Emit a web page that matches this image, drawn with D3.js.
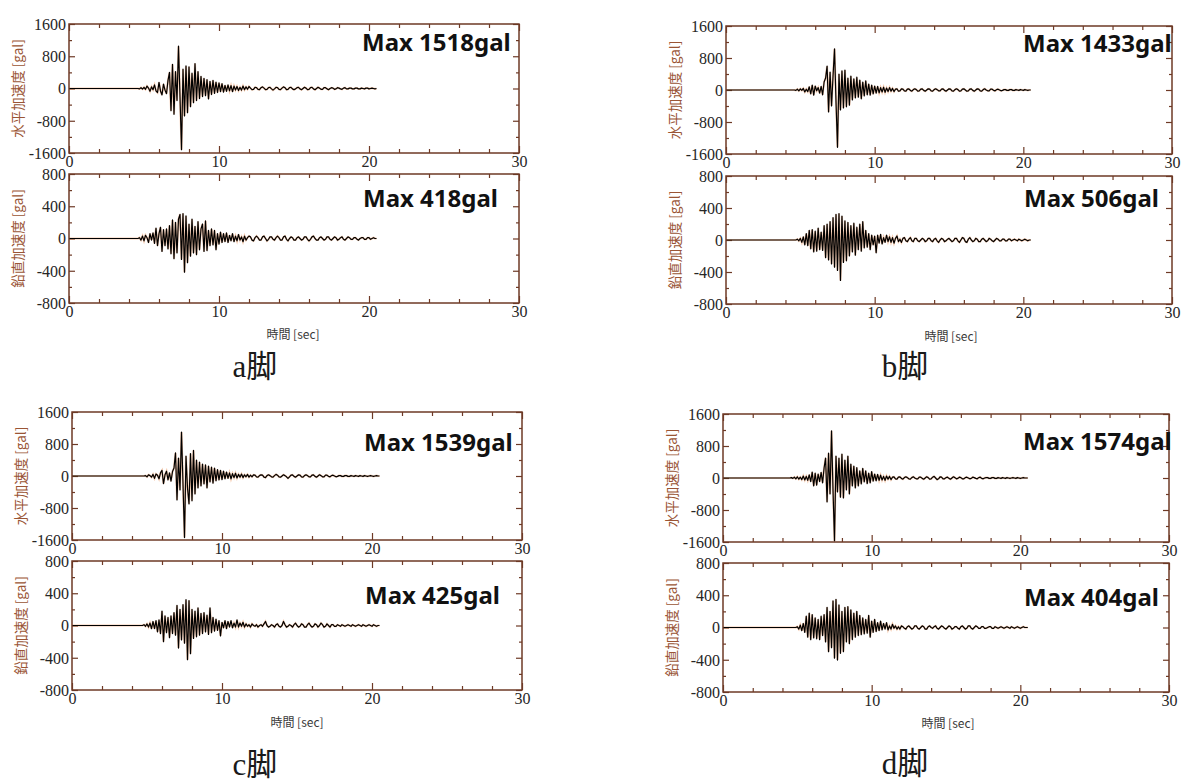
<!DOCTYPE html>
<html><head><meta charset="utf-8">
<script src="https://cdn.jsdelivr.net/npm/d3@7"></script>
<style>
html,body{margin:0;padding:0;background:#fff;}
svg{display:block;}
.tick text{font-family:"Liberation Serif","DejaVu Serif",serif !important;font-size:16px !important;}
</style></head>
<body>
<svg id="chart" width="1184" height="781"></svg>
<script>
// ---------------- DATA ----------------
const legNames = ["a脚", "b脚", "c脚", "d脚"];
const horizMaxLabels = ["Max 1518gal", "Max 1433gal", "Max 1539gal", "Max 1574gal"];
const vertMaxLabels = ["Max 418gal", "Max 506gal", "Max 425gal", "Max 404gal"];
const horizTitle = "水平加速度 [gal]";
const vertTitle = "鉛直加速度 [gal]";
const timeTitle = "時間 [sec]";
const xTickValues = [0, 10, 20, 30];
const xTickLabels = ["0", "10", "20", "30"];
const xMinorValues = [2, 4, 6, 8, 12, 14, 16, 18, 22, 24, 26, 28];
const hTickValues = [1600, 800, 0, -800, -1600];
const hTickLabels = ["1600", "800", "0", "-800", "-1600"];
const hMinorValues = [1200, 400, -400, -1200];
const vTickValues = [800, 400, 0, -400, -800];
const vTickLabels = ["800", "400", "0", "-400", "-800"];
const vMinorValues = [600, 200, -200, -600];
const sampleStart = 4.5;   // seconds, first sample (trace is 0 before)
const sampleStep = 0.1;    // seconds between samples

const aHorizontal = [
 0, 0, -10, 20, -15,
 30, -20, 60, 10, -70, 40, -30, 90, -60, -100,
 150, -60, -160, 110, -40, -130, 200, 400, -550, 600,
 -640, 420, -300, 1050, -200, -1518, 480, -680, 560, -600,
 540, -450, 380, -350, 620, -300, 420, -250, 300, -200,
 250, -180, 220, -260, 180, -150, 200, -120, 160, -100,
 140, -80, 120, -90, 80, -70, 90, -60, 70, -80,
 60, -40, 50, -50, 30, -40, 60, -30, 40, -20,
 50, 10, -30, -20, 30, 20, -20, -30, 20, 40,
 10, -30, -20, 20, 30, -10, -40, -10, 30, 20,
 -20, -30, 10, 40, 20, -30, -20, 20, 30, -10,
 -30, -10, 20, 30, -10, -30, 0, 30, 10, -30,
 -20, 20, 30, -10, -30, 0, 30, 10, -20, -20,
 20, 20, -10, -30, 0, 20, 10, -20, -10, 20,
 10, -10, -20, 10, 20, -10, -10, 10, 10, -10,
 -10, 10, 10, -10, -10, 10, 0, -10, 10, 10,
 -10, 0, 10, 0, -10, 0
];
const aVertical = [
 0, 0, 10, -20, 30,
 -30, 40, 10, -50, 60, -20, 70, -60, 130, -90,
 60, 140, -160, 110, -90, 120, -130, 160, -190, 230,
 -250, 200, -180, 240, 300, -260, 310, -418, 280, -300,
 180, -220, 240, -180, 150, -200, 210, -140, 120, 180,
 -160, 220, -150, 100, -90, 120, -80, 100, -140, 60,
 -70, 80, -50, 60, -40, 70, -50, 40, -30, 60,
 -40, 30, -30, 50, -20, 20, -40, 30, -20, 10,
 30, 20, -20, -30, 10, 30, 10, -20, -20, 20,
 30, 0, -30, -10, 20, 20, -10, -20, 10, 30,
 10, -20, -20, 20, 30, -10, -30, 0, 20, 10,
 -20, -20, 10, 20, 0, -20, -10, 20, 20, -10,
 -30, -10, 20, 30, 0, -20, -20, 10, 20, 0,
 -20, -10, 20, 20, -10, -20, 0, 20, 10, -20,
 -10, 10, 20, -10, -20, 0, 20, 10, -10, -10,
 10, 10, -10, -20, 0, 10, 10, -10, -10, 10,
 10, -10, 0, 10, 0, 0
];
const bHorizontal = [
 0, 0, -10, 20, -20,
 30, -10, 40, -50, 20, -40, 80, -100, 120, -130,
 100, -20, 60, -80, 90, -120, 200, 300, 600, -550,
 450, -400, 350, 1030, -300, -1433, 400, -500, 480, -450,
 500, -420, 300, -380, 350, -250, 280, -200, 320, -180,
 250, -220, 200, -150, 230, -120, 150, -130, 120, -100,
 100, -80, 90, -70, 60, -50, 70, -60, 50, -40,
 60, -30, 40, -40, 20, 30, -30, -20, 30, 20,
 -20, -30, 20, 30, -10, -30, 10, 30, 10, -30,
 -20, 20, 30, -10, -30, 0, 30, 20, -20, -30,
 10, 30, 10, -20, -20, 20, 30, -10, -30, 0,
 30, 20, -20, -30, 10, 30, 10, -30, -20, 20,
 30, 0, -30, -20, 20, 30, -10, -30, 0, 30,
 20, -20, -30, 10, 30, 0, -20, -20, 20, 20,
 -10, -20, 10, 20, 0, -20, -10, 10, 10, -10,
 -10, 10, 10, -10, -10, 10, 0, -10, 10, 0,
 -10, 10, 0, -10, 0, 0
];
const bVertical = [
 0, 0, 0, 10, -10,
 20, -30, 40, -60, 80, -70, 120, -110, 130, -150,
 110, -140, 150, -120, 100, -130, 180, -220, 200, -250,
 230, -300, 280, -340, 320, -380, 330, -506, 300, -280,
 240, -260, 220, -200, 180, -150, 210, -190, 160, -120,
 200, -140, 230, -100, 120, -90, 80, -120, 60, -60,
 50, -160, 60, -40, 70, -50, 30, -30, 60, -20,
 40, -30, 30, -40, 20, 50, -20, 10, -30, 20,
 30, -10, -20, 10, 30, -10, -20, 20, 20, -10,
 -20, 0, 20, 10, -20, -10, 20, 20, -10, -20,
 10, 20, -10, -30, 0, 20, 10, -20, -10, 10,
 20, 0, -20, -10, 20, 20, -10, -30, 0, 30,
 20, -20, -30, 10, 30, 0, -20, -10, 20, 10,
 -20, -20, 10, 20, 0, -20, -10, 20, 10, -10,
 -20, 0, 20, 10, -10, -10, 10, 10, -10, -10,
 10, 10, -10, 0, 10, 0, -10, 10, 0, -10,
 0, 10, 0, -10, 0, 0
];
const cHorizontal = [
 0, 0, 0, 0, 10,
 -20, 30, 10, -30, 40, -60, 50, 20, -70, 80,
 140, -190, 30, 120, -100, 80, -130, 110, 200, 580,
 -600, 450, -350, 1100, -200, -1539, 500, -300, -700, 560,
 -620, 640, -450, 400, -300, 350, -250, 300, -200, 280,
 -300, 250, -150, 220, -180, 200, -120, 160, -100, 140,
 -90, 120, -70, 100, -60, 80, -70, 60, -40, 70,
 -50, 40, -30, 50, -40, 30, -20, 40, -30, 20,
 -20, 30, 20, -20, -30, 10, 30, 20, -30, -40,
 10, 30, 10, -20, -30, 10, 40, 20, -20, -30,
 0, 30, 10, -20, -60, -20, 20, 30, -10, -30,
 0, 30, 20, -20, -30, 10, 30, 10, -20, -20,
 20, 30, -10, -30, 0, 30, 10, -20, -20, 20,
 20, -10, -20, 10, 20, 0, -20, -10, 10, 10,
 -10, -10, 10, 10, -10, -10, 10, 0, -10, 10,
 0, -10, 10, 0, -10, 10, 0, -10, 0, 10,
 0, -10, 0, 10, 0, 0
];
const cVertical = [
 0, 0, 0, 10, -10,
 20, -20, 30, -40, 50, -40, 60, -80, 70, -100,
 180, -200, 120, -90, 100, -150, 120, -100, 160, -120,
 250, -280, 200, -180, 260, -220, 320, -425, 310, -350,
 200, -160, 180, -140, 220, -120, 150, -100, 160, -80,
 130, -110, 220, -90, 100, -70, 80, -60, 60, -130,
 40, -30, 60, -40, 50, -20, 60, -30, 30, -20,
 70, -20, 30, -10, 40, -20, 20, -10, 10, -20,
 20, 0, -10, 10, -20, 0, 10, -10, 20, 50,
 0, -20, -10, 10, 0, -20, 10, 20, -10, -20,
 0, 50, 10, -20, -10, 10, 0, -20, 10, 30,
 0, -20, -10, 20, 10, -20, -20, 10, 30, 0,
 -20, -10, 20, 10, -20, 0, 30, 10, -20, -10,
 20, 0, -20, 10, 10, -10, -10, 10, 0, -10,
 10, 0, -10, 0, 10, 0, -10, 10, 0, -10,
 0, 10, 0, -10, 10, 0, -10, 0, 10, 0,
 -10, 10, 0, -10, 0, 0
];
const dHorizontal = [
 0, 10, -10, 20, -20,
 30, -30, 20, -40, 50, -50, 40, -60, 80, -90,
 150, -200, 120, -180, 100, -90, 140, -120, 250, 500,
 -600, 620, -400, 1180, -300, -1574, 550, -350, 500, -480,
 600, -500, 450, -300, 550, -400, 350, -200, 300, -250,
 260, -200, 180, -150, 240, -100, 180, -140, 120, -120,
 160, -80, 100, -70, 90, -60, 70, -50, 40, -60,
 50, -30, 40, -40, 20, 30, -20, -30, 20, 30,
 -10, -30, 10, 30, 10, -20, -30, 10, 30, 0,
 -20, -20, 20, 20, -10, -30, 0, 30, 10, -30,
 -20, 20, 40, 0, -40, -20, 30, 20, -20, -20,
 10, 20, -10, -30, 0, 30, 10, -20, -10, 20,
 10, -20, -20, 10, 20, 0, -20, -10, 20, 10,
 -10, -20, 10, 20, -10, -20, 0, 10, 10, -10,
 -10, 10, 10, -10, -10, 10, 0, -10, 10, 0,
 -10, 10, 0, -10, 0, 10, 0, -10, 10, 0,
 -10, 0, 10, 0, 0, 0
];
const dVertical = [
 0, 0, 0, 0, 0,
 10, -20, 30, -40, 50, -60, 140, -120, 180, -150,
 160, -130, 120, -140, 100, -150, 140, -100, 160, -180,
 250, -300, 200, -250, 330, -380, 350, -404, 280, -320,
 200, -300, 250, -180, 260, -200, 220, -150, 180, -120,
 200, -100, 150, -90, 120, -80, 100, -70, 150, -120,
 80, -60, 100, -50, 60, -40, 80, -30, 50, -20,
 60, -30, 20, -20, 40, -10, 20, -20, 10, -20,
 20, 10, -10, -20, 10, 20, 0, -20, -10, 20,
 20, -10, -20, 0, 20, 10, -20, -20, 10, 20,
 0, -10, 10, 20, -10, -20, 0, 20, 10, -10,
 -20, 0, 20, 10, -20, -10, 10, 10, -10, -20,
 10, 20, 0, -20, -10, 20, 20, -10, -20, 0,
 20, 10, -10, -10, 10, 10, -10, -10, 0, 10,
 10, -10, -10, 10, 0, -10, 0, 10, 0, -10,
 0, 10, 0, -10, 10, 0, -10, 0, 10, 0,
 -10, 0, 10, 0, 0, 0
];
const horizontalSeries = [aHorizontal, bHorizontal, cHorizontal, dHorizontal];
const verticalSeries = [aVertical, bVertical, cVertical, dVertical];

// ---------------- LAYOUT ----------------
const panels = [
  {x0: 69,  x1: 519,  hTop: 24,  hBot: 153, vTop: 174, vBot: 303, legX: 255, legY: 377, tX: 293, tY: 339,
   hMax: [362, 51], vMax: [363, 207]},
  {x0: 726, x1: 1172, hTop: 26,  hBot: 154, vTop: 176, vBot: 304, legX: 905, legY: 377, tX: 951, tY: 341,
   hMax: [1023, 52], vMax: [1024, 207]},
  {x0: 72,  x1: 522,  hTop: 412, hBot: 540, vTop: 561, vBot: 690, legX: 255, legY: 775, tX: 297, tY: 727,
   hMax: [364, 451], vMax: [365, 604]},
  {x0: 723, x1: 1169, hTop: 414, hBot: 542, vTop: 563, vBot: 692, legX: 905, legY: 774, tX: 948, tY: 728,
   hMax: [1023, 450], vMax: [1024, 606]}
];

const frameColor = "#6e3a26";
const labelColor = "#262626";
const yTitleColor = "#9a5535";
const serif = "Liberation Serif, DejaVu Serif, Noto Sans CJK JP, serif";

const svg = d3.select("#chart");

function toPoints(vals) {
  const pts = [[0, 0]];
  vals.forEach((v, i) => pts.push([sampleStart + i * sampleStep, v]));
  return pts;
}

function styleAxis(a) {
  a.attr("font-family", serif).attr("font-size", 16);
  a.select(".domain").remove();
  a.selectAll(".tick line").attr("stroke", frameColor).attr("stroke-width", 1.2);
  a.selectAll(".tick text").attr("fill", labelColor);
}

function drawPlot(p, top, bot, values, yDomain, yTicks, yLabels, yMinor, yTitle, maxText, maxPos) {
  const x = d3.scaleLinear().domain([0, 30]).range([p.x0, p.x1]);
  const y = d3.scaleLinear().domain(yDomain).range([bot, top]);
  const g = svg.append("g");

  const axes = [];
  axes.push(g.append("g").attr("transform", `translate(0,${bot})`)
    .call(d3.axisBottom(x).tickValues(xTickValues).tickSizeInner(-7).tickSizeOuter(0).tickPadding(3)
      .tickFormat((d, i) => xTickLabels[i])));
  axes.push(g.append("g").attr("transform", `translate(0,${bot})`)
    .call(d3.axisBottom(x).tickValues(xMinorValues).tickSizeInner(-4).tickSizeOuter(0).tickFormat("")));
  axes.push(g.append("g").attr("transform", `translate(0,${top})`)
    .call(d3.axisTop(x).tickValues(xTickValues).tickSizeInner(-7).tickSizeOuter(0).tickFormat("")));
  axes.push(g.append("g").attr("transform", `translate(0,${top})`)
    .call(d3.axisTop(x).tickValues(xMinorValues).tickSizeInner(-4).tickSizeOuter(0).tickFormat("")));
  const ly = g.append("g").attr("transform", `translate(${p.x0},0)`)
    .call(d3.axisLeft(y).tickValues(yTicks).tickSizeInner(-6).tickSizeOuter(0).tickPadding(3)
      .tickFormat((d, i) => yLabels[i]));
  axes.push(ly);
  axes.push(g.append("g").attr("transform", `translate(${p.x0},0)`)
    .call(d3.axisLeft(y).tickValues(yMinor).tickSizeInner(-3).tickSizeOuter(0).tickFormat("")));
  axes.push(g.append("g").attr("transform", `translate(${p.x1},0)`)
    .call(d3.axisRight(y).tickValues(yTicks).tickSizeInner(-6).tickSizeOuter(0).tickFormat("")));
  axes.push(g.append("g").attr("transform", `translate(${p.x1},0)`)
    .call(d3.axisRight(y).tickValues(yMinor).tickSizeInner(-3).tickSizeOuter(0).tickFormat("")));
  axes.forEach(styleAxis);
  ly.selectAll(".tick text").attr("dy", "0.34em");

  // trace: faint orange halo + black line
  const line = d3.line().x(d => x(d[0])).y(d => y(d[1]));
  const pts = toPoints(values);
  g.append("path").datum(pts).attr("d", line).attr("fill", "none")
    .attr("stroke", "#e8884a").attr("stroke-width", 2.0).attr("stroke-opacity", 0.45);
  g.append("path").datum(pts).attr("d", line).attr("fill", "none")
    .attr("stroke", "#000").attr("stroke-width", 1.2).attr("stroke-linejoin", "round");

  // frame
  g.append("rect").attr("x", p.x0).attr("y", top).attr("width", p.x1 - p.x0).attr("height", bot - top)
    .attr("fill", "none").attr("stroke", frameColor).attr("stroke-width", 1.5);

  // y title
  g.append("text")
    .attr("transform", `translate(${p.x0 - 51},${(top + bot) / 2}) rotate(-90)`)
    .attr("text-anchor", "middle").attr("dy", "0.35em")
    .attr("fill", yTitleColor)
    .attr("font-family", "Noto Sans CJK JP, Liberation Serif, sans-serif")
    .attr("font-size", 13.5)
    .text(yTitle);

  // max label
  g.append("text").attr("x", maxPos[0]).attr("y", maxPos[1])
    .attr("fill", "#111")
    .attr("font-family", "Noto Sans, Noto Sans CJK JP, sans-serif")
    .attr("font-weight", 700).attr("font-size", 24)
    .text(maxText);
}

panels.forEach((p, k) => {
  drawPlot(p, p.hTop, p.hBot, horizontalSeries[k], [-1600, 1600], hTickValues, hTickLabels, hMinorValues,
    horizTitle, horizMaxLabels[k], p.hMax);
  drawPlot(p, p.vTop, p.vBot, verticalSeries[k], [-800, 800], vTickValues, vTickLabels, vMinorValues,
    vertTitle, vertMaxLabels[k], p.vMax);

  svg.append("text").attr("x", p.tX).attr("y", p.tY).attr("text-anchor", "middle")
    .attr("fill", "#3a3a3a")
    .attr("font-family", "Noto Sans CJK JP, Liberation Serif, sans-serif")
    .attr("font-size", 12)
    .text(timeTitle);

  svg.append("text").attr("x", p.legX).attr("y", p.legY).attr("text-anchor", "middle")
    .attr("fill", "#1a1a1a")
    .attr("font-family", serif)
    .attr("font-size", 31)
    .text(legNames[k]);
});
</script>
</body></html>
